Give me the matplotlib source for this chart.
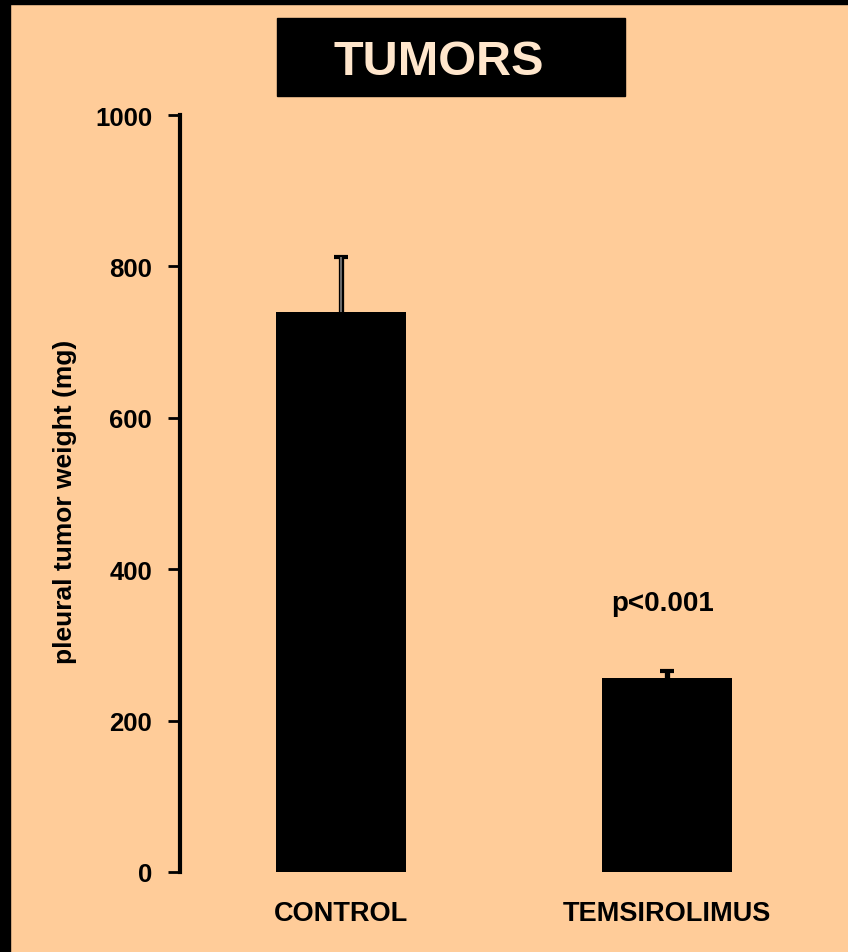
import matplotlib
matplotlib.use("Agg")
import matplotlib.pyplot as plt
from matplotlib.patches import Rectangle

groups = ["CONTROL", "TEMSIROLIMUS"]
weights = [740, 256]
sem = [72, 10]
yticks = [0, 200, 400, 600, 800, 1000]
title = "TUMORS"
pval = "p<0.001"

peach = "#FFCC99"
plt.rcParams['font.family'] = ['Liberation Sans', 'DejaVu Sans']
plt.rcParams['font.weight'] = 'bold'

W, H = 848, 953
fig = plt.figure(figsize=(W / 100, H / 100), dpi=100)
fig.patch.set_facecolor(peach)

# black frame strips on left and top
fig.add_artist(Rectangle((0, 0), 10 / W, 1, transform=fig.transFigure, color="black", zorder=5))
fig.add_artist(Rectangle((0, 1 - 5 / H), 1, 5 / H, transform=fig.transFigure, color="black", zorder=5))

ax = fig.add_axes([180 / W, 80 / H, 650 / W, 757 / H])
ax.set_facecolor(peach)

xpos = [1, 2]
ax.bar(xpos, weights, width=0.4, color="black", zorder=2)
eb = ax.errorbar(xpos, weights, yerr=[[0, 0], sem], fmt="none", ecolor="black",
                 elinewidth=3.8, capsize=4.8, capthick=3, zorder=3)
eb[1][0].set_visible(False)  # no cap at the bar top
# lighter core on the control whisker
ax.errorbar(xpos[:1], weights[:1], yerr=[[0], sem[:1]], fmt="none", ecolor="#808080",
            elinewidth=1.2, capsize=0, zorder=4)

ax.set_xlim(0.505, 2.5)
ax.set_ylim(0, 1000)
ax.set_yticks(yticks)
ax.set_xticks(xpos)
ax.set_xticklabels(groups, fontsize=19.5, fontweight="bold")
ax.tick_params(axis="x", length=0, pad=20)
ax.tick_params(axis="y", direction="out", length=9, width=2, pad=11, labelsize=18.5)
for lab in ax.get_yticklabels():
    lab.set_fontweight("bold")

for s in ["top", "right", "bottom"]:
    ax.spines[s].set_visible(False)
ax.spines["left"].set_linewidth(3)

ax.set_ylabel("pleural tumor weight (mg)", fontsize=19, fontweight="bold")
ax.yaxis.set_label_coords(-0.158, 0.49)

ax.text(xpos[1] - 0.015, 346, pval, ha="center", va="baseline",
        fontsize=20, fontweight="bold")

# title box
fig.add_artist(Rectangle((277 / W, 1 - 97 / H), 348 / W, 78 / H,
                         transform=fig.transFigure, color="black", zorder=5))
fig.text(439 / W, 1 - 75 / H, title, ha="center", va="baseline", fontsize=35,
         fontweight="bold", color="#FFE6CC", zorder=6)

fig.savefig("out.png", dpi=100, facecolor=peach)
